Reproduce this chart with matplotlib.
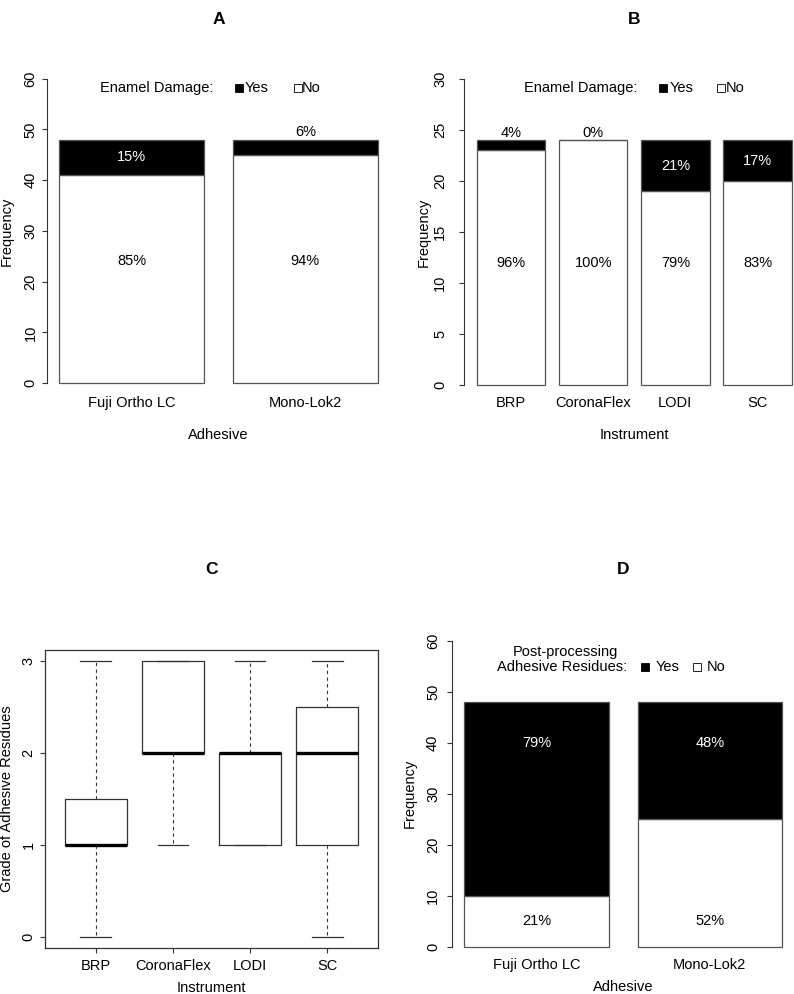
import matplotlib
matplotlib.use("Agg")
import matplotlib.pyplot as plt
from matplotlib.lines import Line2D
import numpy as np

plt.rcParams['font.family'] = ['Liberation Sans', 'DejaVu Sans']

# ---------------- data ----------------
adhesives = ["Fuji Ortho LC", "Mono-Lok2"]
instruments = ["BRP", "CoronaFlex", "LODI", "SC"]

# Panel A: enamel damage by adhesive
A_yes = [7, 3]
A_no = [41, 45]
# Panel B: enamel damage by instrument
B_yes = [1, 0, 5, 4]
B_no = [23, 24, 19, 20]
# Panel C: grade of adhesive residues by instrument (box statistics)
C_whislo = [0, 1, 1, 0]
C_q1 = [1, 2, 1, 1]
C_med = [1, 2, 2, 2]
C_q3 = [1.5, 3, 2, 2.5]
C_whishi = [3, 3, 3, 3]
# Panel D: post-processing adhesive residues by adhesive
D_yes = [38, 23]
D_no = [10, 25]

W, H = 794, 994
fig = plt.figure(figsize=(W / 100, H / 100), dpi=100)
FS = 10.5
LINE = '#333333'
EDGE = '#555555'


def add_ax(l, t, r, b):
    ax = fig.add_axes([l / W, 1 - b / H, (r - l) / W, (b - t) / H])
    ax._box = (l, t, r, b)
    return ax


def fy(ax, ypx):
    l, t, r, b = ax._box
    return (b - ypx) / (b - t)


def fx(ax, xpx):
    l, t, r, b = ax._box
    return (xpx - l) / (r - l)


def px(x, y):
    return x / W, 1 - y / H


def style_bar_axis(ax, ymax, ystep, xlab_px, ylab_px, xtick_center_px, ytick_center_px, xlabel, labels, pos):
    for s in ['top', 'right', 'bottom']:
        ax.spines[s].set_visible(False)
    ax.spines['left'].set_bounds(0, ymax)
    ax.spines['left'].set_color(LINE)
    ax.set_yticks(np.arange(0, ymax + 0.1, ystep))
    l, t, r, b = ax._box
    ax.tick_params(axis='y', length=5 * 0.72, width=0.8, color=LINE, labelsize=FS,
                   pad=(l - ytick_center_px - 5) * 0.72, labelrotation=90)
    for lbl in ax.get_yticklabels():
        lbl.set_va('center')
        lbl.set_ha('center')
    ax.set_xticks(pos, labels)
    ax.tick_params(axis='x', length=0, labelsize=FS, pad=(xtick_center_px - b) * 0.72)
    for lbl in ax.get_xticklabels():
        lbl.set_va('center')
    ax.set_xlabel(xlabel, fontsize=FS, va='center')
    ax.xaxis.set_label_coords(0.5, fy(ax, xlab_px))
    ax.set_ylabel("Frequency", fontsize=FS, va='center')
    ax.yaxis.set_label_coords(fx(ax, ylab_px), 0.5)


def stacked(ax, no, yes, n_bars, yes_label_y=None, no_label_y=None):
    pos = 0.2 + np.arange(n_bars) * 1.2 + 0.5
    ax.bar(pos, no, width=1.0, color='white', edgecolor=EDGE, linewidth=0.9)
    ax.bar(pos, yes, bottom=no, width=1.0, color='black', edgecolor=EDGE, linewidth=0.9)
    ax.set_xlim(0.2 - 0.04 * (1.2 * n_bars - 0.2), 0.2 + 1.2 * n_bars - 0.2 + 0.04 * (1.2 * n_bars - 0.2))
    for i in range(n_bars):
        tot = no[i] + yes[i]
        p_yes = round(100 * yes[i] / tot)
        p_no = round(100 * no[i] / tot)
        ny = tot / 2 if no_label_y is None else no_label_y
        ax.text(pos[i], ny, f"{p_no}%", ha='center', va='center', fontsize=FS, color='black')
        if p_yes < 10:
            ax.annotate(f"{p_yes}%", (pos[i], tot), xytext=(0, 5.2), textcoords='offset points',
                        ha='center', va='center', fontsize=FS, color='black')
        else:
            yy = no[i] + yes[i] / 2 if yes_label_y is None else yes_label_y
            ax.text(pos[i], yy, f"{p_yes}%", ha='center', va='center', fontsize=FS, color='white')
    return pos


def square(x, y, fill):
    fig.add_artist(Line2D([x / W], [1 - y / H], marker='s', markersize=5.2,
                          markerfacecolor=fill, markeredgecolor='black', markeredgewidth=0.6,
                          linestyle='none', transform=fig.transFigure))


def title(ax, s, ypx):
    ax.set_title(s, fontsize=12.5, fontweight='bold', y=fy(ax, ypx), va='center', pad=0)


# ---------------- Panel A ----------------
axA = add_ax(46.5, 66.6, 390.5, 395.3)
posA = stacked(axA, A_no, A_yes, 2)
axA.set_ylim(-2.4, 62.4)
style_bar_axis(axA, 60, 10, 435, 7, 403, 30.5, "Adhesive", adhesives, posA)
title(axA, "A", 20)
fig.text(*px(213, 88), "Enamel Damage:", ha='right', va='center', fontsize=FS)
square(239, 88, 'black')
fig.text(*px(245, 88), "Yes", ha='left', va='center', fontsize=FS)
square(297.5, 88, 'white')
fig.text(*px(302, 88), "No", ha='left', va='center', fontsize=FS)

# ---------------- Panel B ----------------
axB = add_ax(464.1, 66.8, 804.4, 397.2)
posB = stacked(axB, B_no, B_yes, 4)
axB.set_ylim(-1.2, 31.2)
style_bar_axis(axB, 30, 5, 435, 424, 403, 440, "Instrument", instruments, posB)
title(axB, "B", 20)
fig.text(*px(637, 88), "Enamel Damage:", ha='right', va='center', fontsize=FS)
square(663, 88, 'black')
fig.text(*px(670, 88), "Yes", ha='left', va='center', fontsize=FS)
square(721, 88, 'white')
fig.text(*px(726, 88), "No", ha='left', va='center', fontsize=FS)

# ---------------- Panel C ----------------
axC = add_ax(45, 649.5, 378, 948)
stats = []
for i, name in enumerate(instruments):
    stats.append(dict(label=name, whislo=C_whislo[i], q1=C_q1[i], med=C_med[i],
                      q3=C_q3[i], whishi=C_whishi[i], fliers=[]))
axC.bxp(stats, positions=np.arange(1, 5), widths=0.8, showfliers=False,
        boxprops=dict(color=LINE, linewidth=0.9),
        whiskerprops=dict(color=LINE, linewidth=0.8, linestyle=(0, (3, 3))),
        capprops=dict(color=LINE, linewidth=0.9),
        medianprops=dict(color='black', linewidth=2.4),
        capwidths=0.4, patch_artist=False)
axC.set_xlim(0.34, 4.66)
axC.set_ylim(-0.12, 3.12)
for s in axC.spines.values():
    s.set_color(LINE)
    s.set_linewidth(0.9)
axC.set_yticks([0, 1, 2, 3])
axC.tick_params(axis='y', length=5 * 0.72, width=0.8, color=LINE, labelsize=FS,
                pad=(45 - 28.5 - 5) * 0.72, labelrotation=90)
for lbl in axC.get_yticklabels():
    lbl.set_va('center')
    lbl.set_ha('center')
axC.tick_params(axis='x', length=5 * 0.72, width=0.8, color=LINE, labelsize=FS,
                pad=(966 - 948 - 5) * 0.72)
for lbl in axC.get_xticklabels():
    lbl.set_va('center')
axC.set_xlabel("Instrument", fontsize=FS, va='center')
axC.xaxis.set_label_coords(0.5, fy(axC, 988))
axC.set_ylabel("Grade of Adhesive Residues", fontsize=FS, va='center')
axC.yaxis.set_label_coords(fx(axC, 7), 0.5)
title(axC, "C", 569)

# ---------------- Panel D ----------------
axD = add_ax(451.6, 628.5, 794.7, 959)
posD = stacked(axD, D_no, D_yes, 2, yes_label_y=40, no_label_y=5)
axD.set_ylim(-2.4, 62.4)
style_bar_axis(axD, 60, 10, 987, 410, 965, 433, "Adhesive", adhesives, posD)
title(axD, "D", 569)
fig.text(*px(565.5, 652), "Post-processing", ha='center', va='center', fontsize=FS)
fig.text(*px(627, 667), "Adhesive Residues:", ha='right', va='center', fontsize=FS)
square(644.5, 667, 'black')
fig.text(*px(656, 667), "Yes", ha='left', va='center', fontsize=FS)
square(697, 667, 'white')
fig.text(*px(707, 667), "No", ha='left', va='center', fontsize=FS)

fig.savefig("out.png", dpi=100)
